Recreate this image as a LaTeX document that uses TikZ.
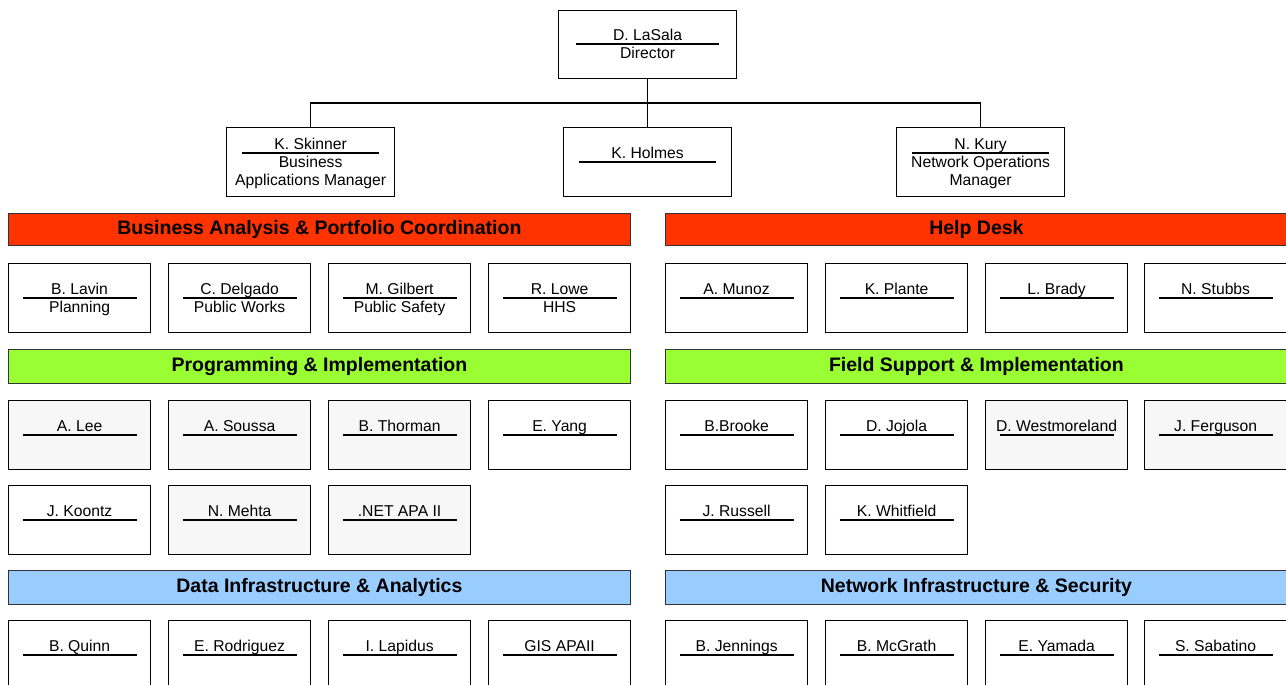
\documentclass[tikz,border=0pt]{standalone}
\usepackage{fontspec}
\setmainfont{Liberation Sans}
\begin{document}
\begin{tikzpicture}[x=1pt,y=-1pt,
  pbox/.style={draw=black,line width=1.2pt,inner sep=0pt,minimum width=142pt,minimum height=69pt},
  mbox/.style={pbox,minimum width=168pt},
  sepline/.style={line width=1.2pt},
  txt/.style={anchor=base,inner sep=0pt,font=\fontsize{15.7}{18}\selectfont},
  banner/.style={draw=black!80,line width=0.8pt,inner sep=0pt,minimum height=32pt,anchor=north west,font=\fontsize{19.5}{22}\selectfont\bfseries},
  conn/.style={line width=1.2pt}]
\definecolor{bred}{HTML}{FF3300}
\definecolor{bgreen}{HTML}{99FF33}
\definecolor{bblue}{HTML}{99CCFF}
\definecolor{lgray}{HTML}{F7F7F7}
\useasboundingbox (0,0) rectangle (1286,685);
\clip (0,0) rectangle (1286,685);
\newcommand\staff[6]{%
  \node[pbox,fill=#4,anchor=north west] (#1) at (#2,#3) {};
  \draw[sepline] ([xshift=14.5pt,yshift=-35pt]#1.north west) -- ([xshift=-14.5pt,yshift=-35pt]#1.north east);
  \node[txt] (#1n) at ([yshift=-31.5pt]#1.north) {#5};
  \ifx\relax#6\relax\else\node[txt] (#1r) at ([yshift=-49.5pt]#1.north) {#6};\fi
}
% Director
\node[pbox,minimum width=178pt,minimum height=68pt,anchor=north west] (dir) at (558,10) {};
\draw[sepline] ([xshift=18pt,yshift=-34pt]dir.north west) -- ([xshift=-18pt,yshift=-34pt]dir.north east);
\node[txt] (dirn) at ([yshift=-30.5pt]dir.north) {D. LaSala};
\node[txt] (dirr) at ([yshift=-48.5pt]dir.north) {Director};
% Managers
\node[mbox,anchor=north west] (ski) at (226,127) {};
\draw[sepline] ([xshift=16pt,yshift=-26pt]ski.north west) -- ([xshift=-16pt,yshift=-26pt]ski.north east);
\node[txt] (skin) at ([yshift=-22.5pt]ski.north) {K. Skinner};
\node[txt] (skir) at ([yshift=-40.5pt]ski.north) {Business};
\node[txt] (skir2) at ([yshift=-58.5pt]ski.north) {Applications Manager};
\node[mbox,anchor=north west] (hol) at (563,127) {};
\draw[sepline] ([xshift=16pt,yshift=-35pt]hol.north west) -- ([xshift=-16pt,yshift=-35pt]hol.north east);
\node[txt] (holn) at ([yshift=-31.5pt]hol.north) {K. Holmes};
\node[mbox,anchor=north west] (kur) at (896,127) {};
\draw[sepline] ([xshift=16pt,yshift=-26pt]kur.north west) -- ([xshift=-16pt,yshift=-26pt]kur.north east);
\node[txt] (kurn) at ([yshift=-22.5pt]kur.north) {N. Kury};
\node[txt] (kurr) at ([yshift=-40.5pt]kur.north) {Network Operations};
\node[txt] (kurr2) at ([yshift=-58.5pt]kur.north) {Manager};
% connectors
\coordinate (bus) at (647,103);
\draw[conn] (dir.south) -- (hol.north);
\draw[conn] (ski.north) |- (bus) -| (kur.north);
% Banners
\node[banner,fill=bred,minimum width=622pt] (b1) at (8,213) {Business Analysis \& Portfolio Coordination};
\node[banner,fill=bred,minimum width=622pt] (b2) at (665,213) {Help Desk};
\node[banner,fill=bgreen,minimum width=622pt,minimum height=34pt] (b3) at (8,349) {Programming \& Implementation};
\node[banner,fill=bgreen,minimum width=622pt,minimum height=34pt] (b4) at (665,349) {Field Support \& Implementation};
\node[banner,fill=bblue,minimum width=622pt,minimum height=34pt] (b5) at (8,570) {Data Infrastructure \& Analytics};
\node[banner,fill=bblue,minimum width=622pt,minimum height=34pt] (b6) at (665,570) {Network Infrastructure \& Security};
% Left row 1
\staff{lavin}{8}{263}{white}{B. Lavin}{Planning}
\staff{delgado}{168}{263}{white}{C. Delgado}{Public Works}
\staff{gilbert}{328}{263}{white}{M. Gilbert}{Public Safety}
\staff{lowe}{488}{263}{white}{R. Lowe}{HHS}
% Right row 1
\staff{munoz}{665}{263}{white}{A. Munoz}{}
\staff{plante}{825}{263}{white}{K. Plante}{}
\staff{brady}{985}{263}{white}{L. Brady}{}
\staff{stubbs}{1144}{263}{white}{N. Stubbs}{}
% Left row 2
\staff{lee}{8}{400}{lgray}{A. Lee}{}
\staff{soussa}{168}{400}{lgray}{A. Soussa}{}
\staff{thorman}{328}{400}{lgray}{B. Thorman}{}
\staff{yang}{488}{400}{white}{E. Yang}{}
% Right row 2
\staff{brooke}{665}{400}{white}{B.Brooke}{}
\staff{jojola}{825}{400}{white}{D. Jojola}{}
\staff{westm}{985}{400}{lgray}{D. Westmoreland}{}
\staff{ferguson}{1144}{400}{lgray}{J. Ferguson}{}
% Left row 3
\staff{koontz}{8}{485}{white}{J. Koontz}{}
\staff{mehta}{168}{485}{lgray}{N. Mehta}{}
\staff{netapa}{328}{485}{lgray}{.NET APA II}{}
% Right row 3
\staff{russell}{665}{485}{white}{J. Russell}{}
\staff{whitfield}{825}{485}{white}{K. Whitfield}{}
% Left row 4
\staff{quinn}{8}{620}{white}{B. Quinn}{}
\staff{rodriguez}{168}{620}{white}{E. Rodriguez}{}
\staff{lapidus}{328}{620}{white}{I. Lapidus}{}
\staff{gis}{488}{620}{white}{GIS APAII}{}
% Right row 4
\staff{jennings}{665}{620}{white}{B. Jennings}{}
\staff{mcgrath}{825}{620}{white}{B. McGrath}{}
\staff{yamada}{985}{620}{white}{E. Yamada}{}
\staff{sabatino}{1144}{620}{white}{S. Sabatino}{}
\end{tikzpicture}
\end{document}
